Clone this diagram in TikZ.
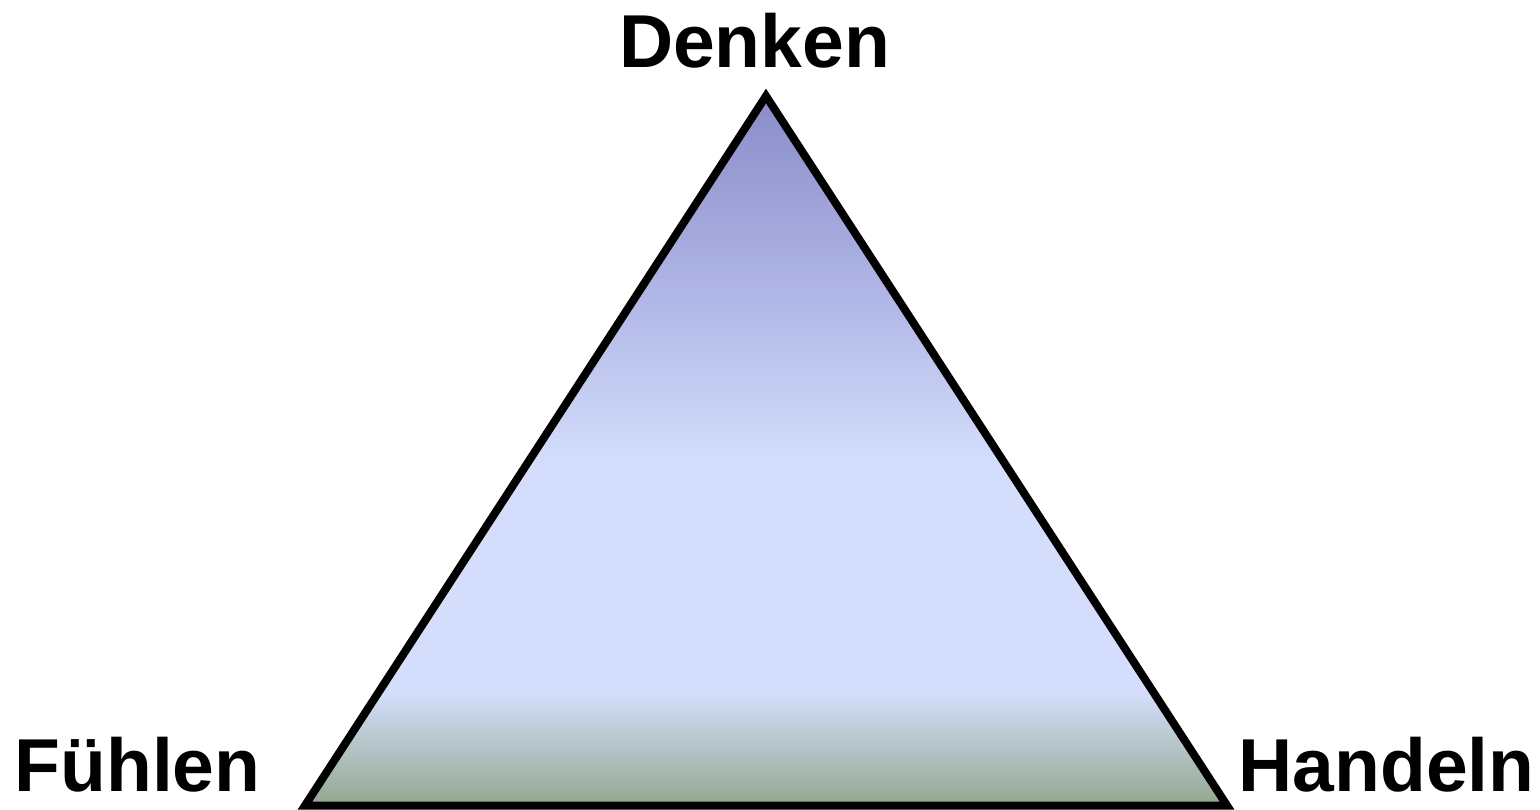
\documentclass[tikz,border=0pt]{standalone}
\usepackage{fontspec}
\setmainfont{Liberation Sans}
\definecolor{botgreen}{HTML}{93A88E}
\definecolor{midblue}{HTML}{D4DEFC}
\definecolor{upblue}{HTML}{B0B6E6}
\definecolor{topviolet}{HTML}{8A8CC8}
\pgfdeclareverticalshading{trishade}{100bp}{%
  color(0bp)=(botgreen);
  color(25bp)=(botgreen);
  color(33bp)=(midblue);
  color(49bp)=(midblue);
  color(61bp)=(upblue);
  color(75bp)=(topviolet);
  color(100bp)=(topviolet)}
\tikzset{
  lbl/.style={anchor=base, inner sep=0pt, text depth=0pt, font=\fontsize{75}{80}\selectfont\bfseries},
  tri/.style={draw=black, line width=8pt, line join=miter, shading=trishade}
}
\begin{document}
\begin{tikzpicture}[x=1pt,y=-1pt]
\useasboundingbox (0,0) rectangle (1540,809);
\coordinate (top) at (766,96);
\coordinate (bl) at (305,805.5);
\coordinate (br) at (1227,805.5);
\path[tri] (top) -- (br) -- (bl) -- cycle;
\node[lbl] (denken) at (754.5,67) {Denken};
\node[lbl] (fuehlen) at (137.5,791) {Fühlen};
\node[lbl] (handeln) at (1386.5,791) {Handeln};
\end{tikzpicture}
\end{document}
